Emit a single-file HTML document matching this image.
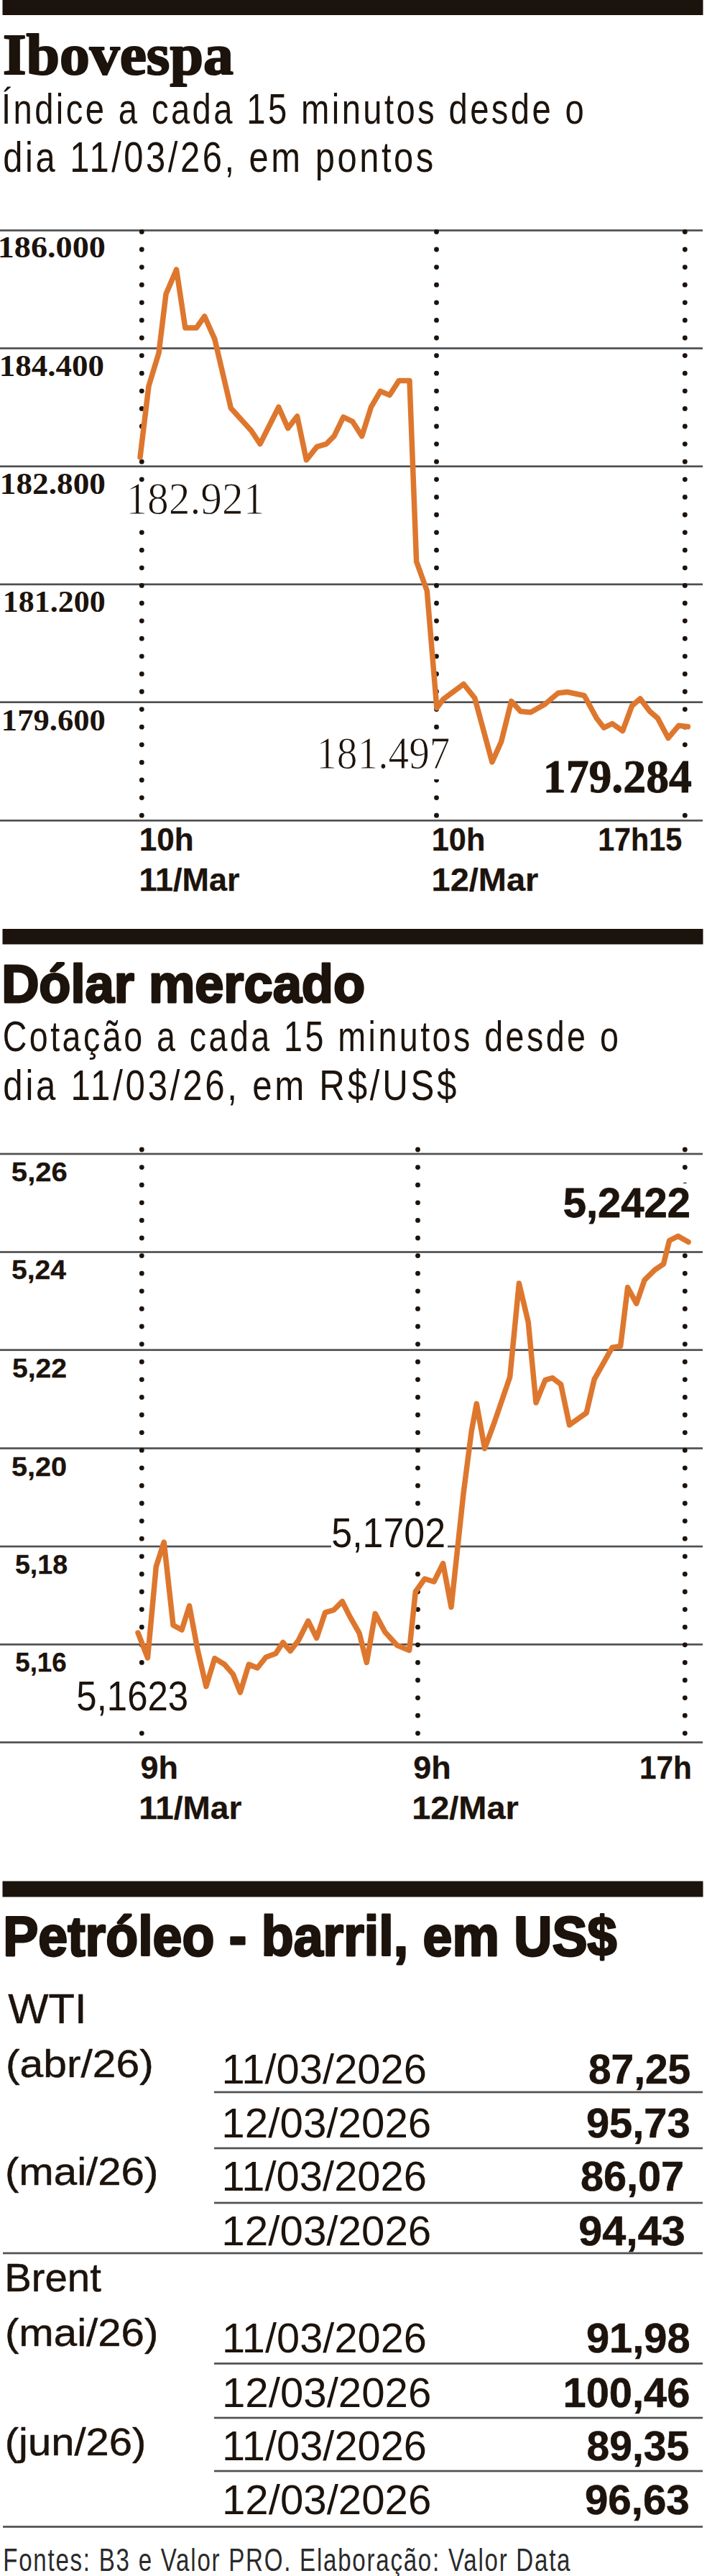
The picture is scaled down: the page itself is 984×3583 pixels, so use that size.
<!DOCTYPE html>
<html><head><meta charset="utf-8"><style>
html,body{margin:0;padding:0;background:#fff;}
svg{display:block;}
</style></head><body>
<svg width="984" height="3583" viewBox="0 0 984 3583">
<rect width="984" height="3583" fill="#fff"/>
<rect x="3.5" y="0" width="975" height="21" fill="#1c130c"/>
<text x="3.91" y="103" font-family="'Liberation Serif', serif" font-size="80" font-weight="bold" fill="#1c130c" textLength="320.85" lengthAdjust="spacingAndGlyphs" stroke="#1c130c" stroke-width="2.2" stroke-linejoin="round">Ibovespa</text>
<text x="2.07" y="172" font-family="'Liberation Sans', sans-serif" font-size="60" font-weight="normal" fill="#1c130c" textLength="814.1" lengthAdjust="spacingAndGlyphs" letter-spacing="4.29">Índice a cada 15 minutos desde o</text>
<text x="4.37" y="238.7" font-family="'Liberation Sans', sans-serif" font-size="60" font-weight="normal" fill="#1c130c" textLength="602.47" lengthAdjust="spacingAndGlyphs" letter-spacing="4.313">dia 11/03/26, em pontos</text>
<rect x="0" y="319.15" width="978" height="2.7" fill="#505050"/>
<rect x="0" y="483.15" width="978" height="2.7" fill="#505050"/>
<rect x="0" y="647.35" width="978" height="2.7" fill="#505050"/>
<rect x="0" y="811.4499999999999" width="978" height="2.7" fill="#505050"/>
<rect x="0" y="975.35" width="978" height="2.7" fill="#505050"/>
<rect x="0" y="1139.95" width="978" height="2.7" fill="#505050"/>
<circle cx="197.3" cy="322.4" r="3.4" fill="#1c130c"/>
<circle cx="197.3" cy="347.0" r="3.4" fill="#1c130c"/>
<circle cx="197.3" cy="371.6" r="3.4" fill="#1c130c"/>
<circle cx="197.3" cy="396.2" r="3.4" fill="#1c130c"/>
<circle cx="197.3" cy="420.8" r="3.4" fill="#1c130c"/>
<circle cx="197.3" cy="445.4" r="3.4" fill="#1c130c"/>
<circle cx="197.3" cy="470.0" r="3.4" fill="#1c130c"/>
<circle cx="197.3" cy="494.6" r="3.4" fill="#1c130c"/>
<circle cx="197.3" cy="519.2" r="3.4" fill="#1c130c"/>
<circle cx="197.3" cy="543.8" r="3.4" fill="#1c130c"/>
<circle cx="197.3" cy="568.4" r="3.4" fill="#1c130c"/>
<circle cx="197.3" cy="593.0" r="3.4" fill="#1c130c"/>
<circle cx="197.3" cy="617.6" r="3.4" fill="#1c130c"/>
<circle cx="197.3" cy="642.2" r="3.4" fill="#1c130c"/>
<circle cx="197.3" cy="666.8" r="3.4" fill="#1c130c"/>
<circle cx="197.3" cy="691.4" r="3.4" fill="#1c130c"/>
<circle cx="197.3" cy="716.0" r="3.4" fill="#1c130c"/>
<circle cx="197.3" cy="740.6" r="3.4" fill="#1c130c"/>
<circle cx="197.3" cy="765.2" r="3.4" fill="#1c130c"/>
<circle cx="197.3" cy="789.8" r="3.4" fill="#1c130c"/>
<circle cx="197.3" cy="814.4" r="3.4" fill="#1c130c"/>
<circle cx="197.3" cy="839.0" r="3.4" fill="#1c130c"/>
<circle cx="197.3" cy="863.6" r="3.4" fill="#1c130c"/>
<circle cx="197.3" cy="888.2" r="3.4" fill="#1c130c"/>
<circle cx="197.3" cy="912.8" r="3.4" fill="#1c130c"/>
<circle cx="197.3" cy="937.4" r="3.4" fill="#1c130c"/>
<circle cx="197.3" cy="962.0" r="3.4" fill="#1c130c"/>
<circle cx="197.3" cy="986.6" r="3.4" fill="#1c130c"/>
<circle cx="197.3" cy="1011.2" r="3.4" fill="#1c130c"/>
<circle cx="197.3" cy="1035.8" r="3.4" fill="#1c130c"/>
<circle cx="197.3" cy="1060.4" r="3.4" fill="#1c130c"/>
<circle cx="197.3" cy="1085.0" r="3.4" fill="#1c130c"/>
<circle cx="197.3" cy="1109.6" r="3.4" fill="#1c130c"/>
<circle cx="197.3" cy="1134.2" r="3.4" fill="#1c130c"/>
<circle cx="607.5" cy="322.4" r="3.4" fill="#1c130c"/>
<circle cx="607.5" cy="347.0" r="3.4" fill="#1c130c"/>
<circle cx="607.5" cy="371.6" r="3.4" fill="#1c130c"/>
<circle cx="607.5" cy="396.2" r="3.4" fill="#1c130c"/>
<circle cx="607.5" cy="420.8" r="3.4" fill="#1c130c"/>
<circle cx="607.5" cy="445.4" r="3.4" fill="#1c130c"/>
<circle cx="607.5" cy="470.0" r="3.4" fill="#1c130c"/>
<circle cx="607.5" cy="494.6" r="3.4" fill="#1c130c"/>
<circle cx="607.5" cy="519.2" r="3.4" fill="#1c130c"/>
<circle cx="607.5" cy="543.8" r="3.4" fill="#1c130c"/>
<circle cx="607.5" cy="568.4" r="3.4" fill="#1c130c"/>
<circle cx="607.5" cy="593.0" r="3.4" fill="#1c130c"/>
<circle cx="607.5" cy="617.6" r="3.4" fill="#1c130c"/>
<circle cx="607.5" cy="642.2" r="3.4" fill="#1c130c"/>
<circle cx="607.5" cy="666.8" r="3.4" fill="#1c130c"/>
<circle cx="607.5" cy="691.4" r="3.4" fill="#1c130c"/>
<circle cx="607.5" cy="716.0" r="3.4" fill="#1c130c"/>
<circle cx="607.5" cy="740.6" r="3.4" fill="#1c130c"/>
<circle cx="607.5" cy="765.2" r="3.4" fill="#1c130c"/>
<circle cx="607.5" cy="789.8" r="3.4" fill="#1c130c"/>
<circle cx="607.5" cy="814.4" r="3.4" fill="#1c130c"/>
<circle cx="607.5" cy="839.0" r="3.4" fill="#1c130c"/>
<circle cx="607.5" cy="863.6" r="3.4" fill="#1c130c"/>
<circle cx="607.5" cy="888.2" r="3.4" fill="#1c130c"/>
<circle cx="607.5" cy="912.8" r="3.4" fill="#1c130c"/>
<circle cx="607.5" cy="937.4" r="3.4" fill="#1c130c"/>
<circle cx="607.5" cy="962.0" r="3.4" fill="#1c130c"/>
<circle cx="607.5" cy="986.6" r="3.4" fill="#1c130c"/>
<circle cx="607.5" cy="1011.2" r="3.4" fill="#1c130c"/>
<circle cx="607.5" cy="1035.8" r="3.4" fill="#1c130c"/>
<circle cx="607.5" cy="1060.4" r="3.4" fill="#1c130c"/>
<circle cx="607.5" cy="1085.0" r="3.4" fill="#1c130c"/>
<circle cx="607.5" cy="1109.6" r="3.4" fill="#1c130c"/>
<circle cx="607.5" cy="1134.2" r="3.4" fill="#1c130c"/>
<circle cx="953.3" cy="322.4" r="3.4" fill="#1c130c"/>
<circle cx="953.3" cy="347.0" r="3.4" fill="#1c130c"/>
<circle cx="953.3" cy="371.6" r="3.4" fill="#1c130c"/>
<circle cx="953.3" cy="396.2" r="3.4" fill="#1c130c"/>
<circle cx="953.3" cy="420.8" r="3.4" fill="#1c130c"/>
<circle cx="953.3" cy="445.4" r="3.4" fill="#1c130c"/>
<circle cx="953.3" cy="470.0" r="3.4" fill="#1c130c"/>
<circle cx="953.3" cy="494.6" r="3.4" fill="#1c130c"/>
<circle cx="953.3" cy="519.2" r="3.4" fill="#1c130c"/>
<circle cx="953.3" cy="543.8" r="3.4" fill="#1c130c"/>
<circle cx="953.3" cy="568.4" r="3.4" fill="#1c130c"/>
<circle cx="953.3" cy="593.0" r="3.4" fill="#1c130c"/>
<circle cx="953.3" cy="617.6" r="3.4" fill="#1c130c"/>
<circle cx="953.3" cy="642.2" r="3.4" fill="#1c130c"/>
<circle cx="953.3" cy="666.8" r="3.4" fill="#1c130c"/>
<circle cx="953.3" cy="691.4" r="3.4" fill="#1c130c"/>
<circle cx="953.3" cy="716.0" r="3.4" fill="#1c130c"/>
<circle cx="953.3" cy="740.6" r="3.4" fill="#1c130c"/>
<circle cx="953.3" cy="765.2" r="3.4" fill="#1c130c"/>
<circle cx="953.3" cy="789.8" r="3.4" fill="#1c130c"/>
<circle cx="953.3" cy="814.4" r="3.4" fill="#1c130c"/>
<circle cx="953.3" cy="839.0" r="3.4" fill="#1c130c"/>
<circle cx="953.3" cy="863.6" r="3.4" fill="#1c130c"/>
<circle cx="953.3" cy="888.2" r="3.4" fill="#1c130c"/>
<circle cx="953.3" cy="912.8" r="3.4" fill="#1c130c"/>
<circle cx="953.3" cy="937.4" r="3.4" fill="#1c130c"/>
<circle cx="953.3" cy="962.0" r="3.4" fill="#1c130c"/>
<circle cx="953.3" cy="986.6" r="3.4" fill="#1c130c"/>
<circle cx="953.3" cy="1011.2" r="3.4" fill="#1c130c"/>
<circle cx="953.3" cy="1035.8" r="3.4" fill="#1c130c"/>
<circle cx="953.3" cy="1060.4" r="3.4" fill="#1c130c"/>
<circle cx="953.3" cy="1085.0" r="3.4" fill="#1c130c"/>
<circle cx="953.3" cy="1109.6" r="3.4" fill="#1c130c"/>
<circle cx="953.3" cy="1134.2" r="3.4" fill="#1c130c"/>
<text x="-3.27" y="357.6" font-family="'Liberation Serif', serif" font-size="42.4" font-weight="bold" fill="#1c130c" textLength="150.21" lengthAdjust="spacingAndGlyphs">186.000</text>
<text x="-1.18" y="523" font-family="'Liberation Serif', serif" font-size="42.4" font-weight="bold" fill="#1c130c" textLength="146.28" lengthAdjust="spacingAndGlyphs">184.400</text>
<text x="-0.2" y="686.6" font-family="'Liberation Serif', serif" font-size="42.4" font-weight="bold" fill="#1c130c" textLength="147.1" lengthAdjust="spacingAndGlyphs">182.800</text>
<text x="3.89" y="851" font-family="'Liberation Serif', serif" font-size="42.4" font-weight="bold" fill="#1c130c" textLength="142.96" lengthAdjust="spacingAndGlyphs">181.200</text>
<text x="1.84" y="1016" font-family="'Liberation Serif', serif" font-size="42.4" font-weight="bold" fill="#1c130c" textLength="145.03" lengthAdjust="spacingAndGlyphs">179.600</text>
<rect x="176" y="671" width="195" height="57" fill="#fff"/>
<rect x="440" y="1018" width="192" height="66" fill="#fff"/>
<rect x="755" y="1045" width="212" height="80" fill="#fff"/>
<polyline points="195,636 207,537 221,491 231,409 245.6,375 257.8,456 273.4,456 284.7,440 298.8,471.6 321.4,567.8 349.7,599 362,617.5 387.8,566.2 400.7,595.6 413.6,579 426.4,639.8 441.1,621.4 454,617.7 465,606.7 477.9,580.2 490.8,586.4 503.7,606.7 516.5,566.2 529.4,544.1 542.3,549.6 555.2,529.4 570,529.4 579.6,781 594.3,821.8 607.9,984.7 617,972.4 645.3,951.5 660.8,971 684.9,1060 697.6,1031.8 711.7,975.3 724.5,989.4 738.6,990.8 758.4,979.5 776.8,964 789.5,962.5 813.2,967.5 830.5,999.2 840.6,1012.2 852.1,1006.5 866.6,1016.6 879.5,981.9 891,971.8 904,989.1 915.6,999.2 930,1026.6 944.5,1009.3 957.4,1010.8" fill="none" stroke="#de772e" stroke-width="7.5" stroke-linejoin="round" stroke-linecap="round"/>
<text x="175.4" y="714.7" font-family="'Liberation Serif', serif" font-size="63.6" font-weight="normal" fill="#1c130c" textLength="193.05" lengthAdjust="spacingAndGlyphs" stroke="#fff" stroke-width="1.0">182.921</text>
<text x="440.19" y="1069.4" font-family="'Liberation Serif', serif" font-size="63.6" font-weight="normal" fill="#1c130c" textLength="186.33" lengthAdjust="spacingAndGlyphs" stroke="#fff" stroke-width="1.0">181.497</text>
<text x="755.8" y="1102" font-family="'Liberation Serif', serif" font-size="65" font-weight="bold" fill="#1c130c" textLength="207.05" lengthAdjust="spacingAndGlyphs" stroke="#1c130c" stroke-width="1.0" stroke-linejoin="round">179.284</text>
<text x="193.66" y="1183" font-family="'Liberation Sans', sans-serif" font-size="43.5" font-weight="bold" fill="#1c130c" textLength="75.93" lengthAdjust="spacingAndGlyphs" stroke="#1c130c" stroke-width="0.3" stroke-linejoin="round">10h</text>
<text x="193.6" y="1239" font-family="'Liberation Sans', sans-serif" font-size="43.5" font-weight="bold" fill="#1c130c" textLength="139.85" lengthAdjust="spacingAndGlyphs" stroke="#1c130c" stroke-width="0.3" stroke-linejoin="round">11/Mar</text>
<text x="600.82" y="1183" font-family="'Liberation Sans', sans-serif" font-size="43.5" font-weight="bold" fill="#1c130c" textLength="74.54" lengthAdjust="spacingAndGlyphs" stroke="#1c130c" stroke-width="0.3" stroke-linejoin="round">10h</text>
<text x="600.56" y="1239" font-family="'Liberation Sans', sans-serif" font-size="43.5" font-weight="bold" fill="#1c130c" textLength="148.75" lengthAdjust="spacingAndGlyphs" stroke="#1c130c" stroke-width="0.3" stroke-linejoin="round">12/Mar</text>
<text x="832.15" y="1183" font-family="'Liberation Sans', sans-serif" font-size="43.5" font-weight="bold" fill="#1c130c" textLength="117.18" lengthAdjust="spacingAndGlyphs" stroke="#1c130c" stroke-width="0.3" stroke-linejoin="round">17h15</text>
<rect x="3.5" y="1292" width="975" height="21.5" fill="#1c130c"/>
<text x="2.15" y="1394.2" font-family="'Liberation Sans', sans-serif" font-size="75" font-weight="bold" fill="#1c130c" textLength="506.0" lengthAdjust="spacingAndGlyphs" stroke="#1c130c" stroke-width="2.8" stroke-linejoin="round">Dólar mercado</text>
<text x="3.67" y="1462" font-family="'Liberation Sans', sans-serif" font-size="60" font-weight="normal" fill="#1c130c" textLength="860.61" lengthAdjust="spacingAndGlyphs" letter-spacing="4.459">Cotação a cada 15 minutos desde o</text>
<text x="4.36" y="1529.5" font-family="'Liberation Sans', sans-serif" font-size="60" font-weight="normal" fill="#1c130c" textLength="634.73" lengthAdjust="spacingAndGlyphs" letter-spacing="4.524">dia 11/03/26, em R$/US$</text>
<rect x="0" y="1603.65" width="978" height="2.7" fill="#505050"/>
<rect x="0" y="1740.15" width="978" height="2.7" fill="#505050"/>
<rect x="0" y="1876.3500000000001" width="978" height="2.7" fill="#505050"/>
<rect x="0" y="2013.15" width="978" height="2.7" fill="#505050"/>
<rect x="0" y="2149.65" width="978" height="2.7" fill="#505050"/>
<rect x="0" y="2285.9500000000003" width="978" height="2.7" fill="#505050"/>
<rect x="0" y="2422.15" width="978" height="2.7" fill="#505050"/>
<circle cx="197.3" cy="1599.0" r="3.4" fill="#1c130c"/>
<circle cx="197.3" cy="1623.6" r="3.4" fill="#1c130c"/>
<circle cx="197.3" cy="1648.2" r="3.4" fill="#1c130c"/>
<circle cx="197.3" cy="1672.8" r="3.4" fill="#1c130c"/>
<circle cx="197.3" cy="1697.4" r="3.4" fill="#1c130c"/>
<circle cx="197.3" cy="1722.0" r="3.4" fill="#1c130c"/>
<circle cx="197.3" cy="1746.6" r="3.4" fill="#1c130c"/>
<circle cx="197.3" cy="1771.2" r="3.4" fill="#1c130c"/>
<circle cx="197.3" cy="1795.8" r="3.4" fill="#1c130c"/>
<circle cx="197.3" cy="1820.4" r="3.4" fill="#1c130c"/>
<circle cx="197.3" cy="1845.0" r="3.4" fill="#1c130c"/>
<circle cx="197.3" cy="1869.6" r="3.4" fill="#1c130c"/>
<circle cx="197.3" cy="1894.2" r="3.4" fill="#1c130c"/>
<circle cx="197.3" cy="1918.8" r="3.4" fill="#1c130c"/>
<circle cx="197.3" cy="1943.4" r="3.4" fill="#1c130c"/>
<circle cx="197.3" cy="1968.0" r="3.4" fill="#1c130c"/>
<circle cx="197.3" cy="1992.6" r="3.4" fill="#1c130c"/>
<circle cx="197.3" cy="2017.2" r="3.4" fill="#1c130c"/>
<circle cx="197.3" cy="2041.8" r="3.4" fill="#1c130c"/>
<circle cx="197.3" cy="2066.4" r="3.4" fill="#1c130c"/>
<circle cx="197.3" cy="2091.0" r="3.4" fill="#1c130c"/>
<circle cx="197.3" cy="2115.6" r="3.4" fill="#1c130c"/>
<circle cx="197.3" cy="2140.2" r="3.4" fill="#1c130c"/>
<circle cx="197.3" cy="2164.8" r="3.4" fill="#1c130c"/>
<circle cx="197.3" cy="2189.4" r="3.4" fill="#1c130c"/>
<circle cx="197.3" cy="2214.0" r="3.4" fill="#1c130c"/>
<circle cx="197.3" cy="2238.6" r="3.4" fill="#1c130c"/>
<circle cx="197.3" cy="2263.2" r="3.4" fill="#1c130c"/>
<circle cx="197.3" cy="2287.8" r="3.4" fill="#1c130c"/>
<circle cx="197.3" cy="2312.4" r="3.4" fill="#1c130c"/>
<circle cx="197.3" cy="2337.0" r="3.4" fill="#1c130c"/>
<circle cx="197.3" cy="2361.6" r="3.4" fill="#1c130c"/>
<circle cx="197.3" cy="2386.2" r="3.4" fill="#1c130c"/>
<circle cx="197.3" cy="2410.8" r="3.4" fill="#1c130c"/>
<circle cx="581.5" cy="1599.0" r="3.4" fill="#1c130c"/>
<circle cx="581.5" cy="1623.6" r="3.4" fill="#1c130c"/>
<circle cx="581.5" cy="1648.2" r="3.4" fill="#1c130c"/>
<circle cx="581.5" cy="1672.8" r="3.4" fill="#1c130c"/>
<circle cx="581.5" cy="1697.4" r="3.4" fill="#1c130c"/>
<circle cx="581.5" cy="1722.0" r="3.4" fill="#1c130c"/>
<circle cx="581.5" cy="1746.6" r="3.4" fill="#1c130c"/>
<circle cx="581.5" cy="1771.2" r="3.4" fill="#1c130c"/>
<circle cx="581.5" cy="1795.8" r="3.4" fill="#1c130c"/>
<circle cx="581.5" cy="1820.4" r="3.4" fill="#1c130c"/>
<circle cx="581.5" cy="1845.0" r="3.4" fill="#1c130c"/>
<circle cx="581.5" cy="1869.6" r="3.4" fill="#1c130c"/>
<circle cx="581.5" cy="1894.2" r="3.4" fill="#1c130c"/>
<circle cx="581.5" cy="1918.8" r="3.4" fill="#1c130c"/>
<circle cx="581.5" cy="1943.4" r="3.4" fill="#1c130c"/>
<circle cx="581.5" cy="1968.0" r="3.4" fill="#1c130c"/>
<circle cx="581.5" cy="1992.6" r="3.4" fill="#1c130c"/>
<circle cx="581.5" cy="2017.2" r="3.4" fill="#1c130c"/>
<circle cx="581.5" cy="2041.8" r="3.4" fill="#1c130c"/>
<circle cx="581.5" cy="2066.4" r="3.4" fill="#1c130c"/>
<circle cx="581.5" cy="2091.0" r="3.4" fill="#1c130c"/>
<circle cx="581.5" cy="2115.6" r="3.4" fill="#1c130c"/>
<circle cx="581.5" cy="2140.2" r="3.4" fill="#1c130c"/>
<circle cx="581.5" cy="2164.8" r="3.4" fill="#1c130c"/>
<circle cx="581.5" cy="2189.4" r="3.4" fill="#1c130c"/>
<circle cx="581.5" cy="2214.0" r="3.4" fill="#1c130c"/>
<circle cx="581.5" cy="2238.6" r="3.4" fill="#1c130c"/>
<circle cx="581.5" cy="2263.2" r="3.4" fill="#1c130c"/>
<circle cx="581.5" cy="2287.8" r="3.4" fill="#1c130c"/>
<circle cx="581.5" cy="2312.4" r="3.4" fill="#1c130c"/>
<circle cx="581.5" cy="2337.0" r="3.4" fill="#1c130c"/>
<circle cx="581.5" cy="2361.6" r="3.4" fill="#1c130c"/>
<circle cx="581.5" cy="2386.2" r="3.4" fill="#1c130c"/>
<circle cx="581.5" cy="2410.8" r="3.4" fill="#1c130c"/>
<circle cx="953.3" cy="1599.0" r="3.4" fill="#1c130c"/>
<circle cx="953.3" cy="1623.6" r="3.4" fill="#1c130c"/>
<circle cx="953.3" cy="1648.2" r="3.4" fill="#1c130c"/>
<circle cx="953.3" cy="1672.8" r="3.4" fill="#1c130c"/>
<circle cx="953.3" cy="1697.4" r="3.4" fill="#1c130c"/>
<circle cx="953.3" cy="1722.0" r="3.4" fill="#1c130c"/>
<circle cx="953.3" cy="1746.6" r="3.4" fill="#1c130c"/>
<circle cx="953.3" cy="1771.2" r="3.4" fill="#1c130c"/>
<circle cx="953.3" cy="1795.8" r="3.4" fill="#1c130c"/>
<circle cx="953.3" cy="1820.4" r="3.4" fill="#1c130c"/>
<circle cx="953.3" cy="1845.0" r="3.4" fill="#1c130c"/>
<circle cx="953.3" cy="1869.6" r="3.4" fill="#1c130c"/>
<circle cx="953.3" cy="1894.2" r="3.4" fill="#1c130c"/>
<circle cx="953.3" cy="1918.8" r="3.4" fill="#1c130c"/>
<circle cx="953.3" cy="1943.4" r="3.4" fill="#1c130c"/>
<circle cx="953.3" cy="1968.0" r="3.4" fill="#1c130c"/>
<circle cx="953.3" cy="1992.6" r="3.4" fill="#1c130c"/>
<circle cx="953.3" cy="2017.2" r="3.4" fill="#1c130c"/>
<circle cx="953.3" cy="2041.8" r="3.4" fill="#1c130c"/>
<circle cx="953.3" cy="2066.4" r="3.4" fill="#1c130c"/>
<circle cx="953.3" cy="2091.0" r="3.4" fill="#1c130c"/>
<circle cx="953.3" cy="2115.6" r="3.4" fill="#1c130c"/>
<circle cx="953.3" cy="2140.2" r="3.4" fill="#1c130c"/>
<circle cx="953.3" cy="2164.8" r="3.4" fill="#1c130c"/>
<circle cx="953.3" cy="2189.4" r="3.4" fill="#1c130c"/>
<circle cx="953.3" cy="2214.0" r="3.4" fill="#1c130c"/>
<circle cx="953.3" cy="2238.6" r="3.4" fill="#1c130c"/>
<circle cx="953.3" cy="2263.2" r="3.4" fill="#1c130c"/>
<circle cx="953.3" cy="2287.8" r="3.4" fill="#1c130c"/>
<circle cx="953.3" cy="2312.4" r="3.4" fill="#1c130c"/>
<circle cx="953.3" cy="2337.0" r="3.4" fill="#1c130c"/>
<circle cx="953.3" cy="2361.6" r="3.4" fill="#1c130c"/>
<circle cx="953.3" cy="2386.2" r="3.4" fill="#1c130c"/>
<circle cx="953.3" cy="2410.8" r="3.4" fill="#1c130c"/>
<text x="15.89" y="1643" font-family="'Liberation Sans', sans-serif" font-size="36" font-weight="bold" fill="#1c130c" textLength="77.91" lengthAdjust="spacingAndGlyphs" stroke="#1c130c" stroke-width="0.3" stroke-linejoin="round">5,26</text>
<text x="15.91" y="1779" font-family="'Liberation Sans', sans-serif" font-size="36" font-weight="bold" fill="#1c130c" textLength="76.17" lengthAdjust="spacingAndGlyphs" stroke="#1c130c" stroke-width="0.3" stroke-linejoin="round">5,24</text>
<text x="16.91" y="1915.5" font-family="'Liberation Sans', sans-serif" font-size="36" font-weight="bold" fill="#1c130c" textLength="76.26" lengthAdjust="spacingAndGlyphs" stroke="#1c130c" stroke-width="0.3" stroke-linejoin="round">5,22</text>
<text x="15.9" y="2052.5" font-family="'Liberation Sans', sans-serif" font-size="36" font-weight="bold" fill="#1c130c" textLength="77.29" lengthAdjust="spacingAndGlyphs" stroke="#1c130c" stroke-width="0.3" stroke-linejoin="round">5,20</text>
<text x="20.96" y="2189" font-family="'Liberation Sans', sans-serif" font-size="36" font-weight="bold" fill="#1c130c" textLength="73.17" lengthAdjust="spacingAndGlyphs" stroke="#1c130c" stroke-width="0.3" stroke-linejoin="round">5,18</text>
<text x="21.28" y="2325.3" font-family="'Liberation Sans', sans-serif" font-size="36" font-weight="bold" fill="#1c130c" textLength="71.42" lengthAdjust="spacingAndGlyphs" stroke="#1c130c" stroke-width="0.3" stroke-linejoin="round">5,16</text>
<rect x="461" y="2100" width="162" height="78" fill="#fff"/>
<rect x="104" y="2318" width="162" height="86" fill="#fff"/>
<rect x="778" y="1646" width="185" height="89" fill="#fff"/>
<polyline points="192,2271 205.5,2306 217.3,2179 228.2,2145 241,2260.5 253,2267 263.6,2233.6 275,2294.7 286.9,2345.6 298.8,2306.6 312.4,2315 324.3,2328.6 334.4,2354 346.3,2315 358.2,2320 370.1,2305 383.7,2300 393.8,2284.5 404,2296.4 415.3,2281.8 428.9,2254.7 440.7,2278.4 452.6,2242.8 464.5,2239.4 476.4,2227.5 486.6,2247.9 500.1,2271.7 510.3,2312.4 522.2,2244.5 535.8,2270 552.7,2288.6 569.7,2295.4 578.3,2214 591.1,2196 604,2200 616.6,2174.6 628,2235.4 644.9,2078.4 656.2,1990.7 663.3,1952.5 674.6,2014.8 688.7,1976.6 709.7,1915.2 722.4,1785 735.2,1838.8 746,1951 758.8,1919.6 768.7,1916.6 780.6,1925.5 792.5,1982 816.2,1965.1 827.1,1918.6 849.7,1878.4 852.2,1874.2 863.6,1872.5 873.6,1790.7 885.8,1813.1 897,1780.5 911.3,1766.3 923.5,1758.1 931.6,1725.5 943.9,1719.4 958.1,1727.6" fill="none" stroke="#de772e" stroke-width="7.5" stroke-linejoin="round" stroke-linecap="round"/>
<text x="461.31" y="2151.5" font-family="'Liberation Sans', sans-serif" font-size="58" font-weight="normal" fill="#1c130c" textLength="158.84" lengthAdjust="spacingAndGlyphs">5,1702</text>
<text x="106.37" y="2378.8" font-family="'Liberation Sans', sans-serif" font-size="58" font-weight="normal" fill="#1c130c" textLength="155.75" lengthAdjust="spacingAndGlyphs">5,1623</text>
<text x="783.7" y="1693.4" font-family="'Liberation Sans', sans-serif" font-size="58" font-weight="bold" fill="#1c130c" textLength="177.3" lengthAdjust="spacingAndGlyphs" stroke="#1c130c" stroke-width="0.8" stroke-linejoin="round">5,2422</text>
<text x="195.47" y="2474.3" font-family="'Liberation Sans', sans-serif" font-size="43.5" font-weight="bold" fill="#1c130c" textLength="52.39" lengthAdjust="spacingAndGlyphs" stroke="#1c130c" stroke-width="0.3" stroke-linejoin="round">9h</text>
<text x="193.33" y="2530.3" font-family="'Liberation Sans', sans-serif" font-size="43.5" font-weight="bold" fill="#1c130c" textLength="142.93" lengthAdjust="spacingAndGlyphs" stroke="#1c130c" stroke-width="0.3" stroke-linejoin="round">11/Mar</text>
<text x="575.37" y="2474.3" font-family="'Liberation Sans', sans-serif" font-size="43.5" font-weight="bold" fill="#1c130c" textLength="52.49" lengthAdjust="spacingAndGlyphs" stroke="#1c130c" stroke-width="0.3" stroke-linejoin="round">9h</text>
<text x="573.16" y="2530.3" font-family="'Liberation Sans', sans-serif" font-size="43.5" font-weight="bold" fill="#1c130c" textLength="148.65" lengthAdjust="spacingAndGlyphs" stroke="#1c130c" stroke-width="0.3" stroke-linejoin="round">12/Mar</text>
<text x="890.09" y="2474.3" font-family="'Liberation Sans', sans-serif" font-size="43.5" font-weight="bold" fill="#1c130c" textLength="72.83" lengthAdjust="spacingAndGlyphs" stroke="#1c130c" stroke-width="0.3" stroke-linejoin="round">17h</text>
<rect x="3.5" y="2616.5" width="975" height="22" fill="#1c130c"/>
<text x="4.18" y="2719.8" font-family="'Liberation Sans', sans-serif" font-size="77" font-weight="bold" fill="#1c130c" textLength="854.19" lengthAdjust="spacingAndGlyphs" stroke="#1c130c" stroke-width="2.8" stroke-linejoin="round">Petróleo - barril, em US$</text>
<text x="11.3" y="2814" font-family="'Liberation Sans', sans-serif" font-size="56.7" font-weight="normal" fill="#1c130c" textLength="109.24" lengthAdjust="spacingAndGlyphs" stroke="#1c130c" stroke-width="0.5" stroke-linejoin="round">WTI</text>
<text x="8.04" y="2888.5" font-family="'Liberation Sans', sans-serif" font-size="54" font-weight="normal" fill="#1c130c" textLength="205.73" lengthAdjust="spacingAndGlyphs" stroke="#1c130c" stroke-width="0.5" stroke-linejoin="round">(abr/26)</text>
<text x="6.97" y="3038.5" font-family="'Liberation Sans', sans-serif" font-size="54" font-weight="normal" fill="#1c130c" textLength="213.31" lengthAdjust="spacingAndGlyphs" stroke="#1c130c" stroke-width="0.5" stroke-linejoin="round">(mai/26)</text>
<text x="6.18" y="3187" font-family="'Liberation Sans', sans-serif" font-size="56" font-weight="normal" fill="#1c130c" textLength="134.68" lengthAdjust="spacingAndGlyphs" stroke="#1c130c" stroke-width="0.5" stroke-linejoin="round">Brent</text>
<text x="6.97" y="3263" font-family="'Liberation Sans', sans-serif" font-size="54" font-weight="normal" fill="#1c130c" textLength="213.31" lengthAdjust="spacingAndGlyphs" stroke="#1c130c" stroke-width="0.5" stroke-linejoin="round">(mai/26)</text>
<text x="6.78" y="3414.5" font-family="'Liberation Sans', sans-serif" font-size="54" font-weight="normal" fill="#1c130c" textLength="196.54" lengthAdjust="spacingAndGlyphs" stroke="#1c130c" stroke-width="0.5" stroke-linejoin="round">(jun/26)</text>
<text x="308.41" y="2897.5" font-family="'Liberation Sans', sans-serif" font-size="58" font-weight="normal" fill="#1c130c" textLength="285.57" lengthAdjust="spacingAndGlyphs">11/03/2026</text>
<text x="308.38" y="2972.6" font-family="'Liberation Sans', sans-serif" font-size="58" font-weight="normal" fill="#1c130c" textLength="291.93" lengthAdjust="spacingAndGlyphs">12/03/2026</text>
<text x="308.41" y="3047" font-family="'Liberation Sans', sans-serif" font-size="58" font-weight="normal" fill="#1c130c" textLength="285.57" lengthAdjust="spacingAndGlyphs">11/03/2026</text>
<text x="308.38" y="3122.5" font-family="'Liberation Sans', sans-serif" font-size="58" font-weight="normal" fill="#1c130c" textLength="291.93" lengthAdjust="spacingAndGlyphs">12/03/2026</text>
<text x="309.01" y="3272" font-family="'Liberation Sans', sans-serif" font-size="58" font-weight="normal" fill="#1c130c" textLength="284.96" lengthAdjust="spacingAndGlyphs">11/03/2026</text>
<text x="308.99" y="3347.5" font-family="'Liberation Sans', sans-serif" font-size="58" font-weight="normal" fill="#1c130c" textLength="291.32" lengthAdjust="spacingAndGlyphs">12/03/2026</text>
<text x="309.01" y="3422" font-family="'Liberation Sans', sans-serif" font-size="58" font-weight="normal" fill="#1c130c" textLength="284.96" lengthAdjust="spacingAndGlyphs">11/03/2026</text>
<text x="308.99" y="3497" font-family="'Liberation Sans', sans-serif" font-size="58" font-weight="normal" fill="#1c130c" textLength="291.32" lengthAdjust="spacingAndGlyphs">12/03/2026</text>
<text x="819.0" y="2897.5" font-family="'Liberation Sans', sans-serif" font-size="57" font-weight="bold" fill="#1c130c" textLength="142.23" lengthAdjust="spacingAndGlyphs" stroke="#1c130c" stroke-width="0.6" stroke-linejoin="round">87,25</text>
<text x="815.97" y="2972.6" font-family="'Liberation Sans', sans-serif" font-size="57" font-weight="bold" fill="#1c130c" textLength="144.69" lengthAdjust="spacingAndGlyphs" stroke="#1c130c" stroke-width="0.6" stroke-linejoin="round">95,73</text>
<text x="807.99" y="3047" font-family="'Liberation Sans', sans-serif" font-size="57" font-weight="bold" fill="#1c130c" textLength="144.17" lengthAdjust="spacingAndGlyphs" stroke="#1c130c" stroke-width="0.6" stroke-linejoin="round">86,07</text>
<text x="805.22" y="3122.5" font-family="'Liberation Sans', sans-serif" font-size="57" font-weight="bold" fill="#1c130c" textLength="148.49" lengthAdjust="spacingAndGlyphs" stroke="#1c130c" stroke-width="0.6" stroke-linejoin="round">94,43</text>
<text x="815.97" y="3272" font-family="'Liberation Sans', sans-serif" font-size="57" font-weight="bold" fill="#1c130c" textLength="144.69" lengthAdjust="spacingAndGlyphs" stroke="#1c130c" stroke-width="0.6" stroke-linejoin="round">91,98</text>
<text x="783.56" y="3347.5" font-family="'Liberation Sans', sans-serif" font-size="57" font-weight="bold" fill="#1c130c" textLength="176.81" lengthAdjust="spacingAndGlyphs" stroke="#1c130c" stroke-width="0.6" stroke-linejoin="round">100,46</text>
<text x="816.6" y="3422" font-family="'Liberation Sans', sans-serif" font-size="57" font-weight="bold" fill="#1c130c" textLength="142.44" lengthAdjust="spacingAndGlyphs" stroke="#1c130c" stroke-width="0.6" stroke-linejoin="round">89,35</text>
<text x="813.96" y="3497" font-family="'Liberation Sans', sans-serif" font-size="57" font-weight="bold" fill="#1c130c" textLength="145.72" lengthAdjust="spacingAndGlyphs" stroke="#1c130c" stroke-width="0.6" stroke-linejoin="round">96,63</text>
<rect x="298" y="2908.65" width="680" height="2.7" fill="#505050"/>
<rect x="298" y="2986.65" width="680" height="2.7" fill="#505050"/>
<rect x="298" y="3062.65" width="680" height="2.7" fill="#505050"/>
<rect x="298" y="3286.15" width="680" height="2.7" fill="#505050"/>
<rect x="298" y="3361.65" width="680" height="2.7" fill="#505050"/>
<rect x="298" y="3435.65" width="680" height="2.7" fill="#505050"/>
<rect x="4" y="3132.65" width="974" height="2.7" fill="#505050"/>
<rect x="4" y="3513.15" width="974" height="2.7" fill="#505050"/>
<text x="4.19" y="3575.5" font-family="'Liberation Sans', sans-serif" font-size="44" font-weight="normal" fill="#2a2a2a" textLength="791.09" lengthAdjust="spacingAndGlyphs" letter-spacing="2.323">Fontes: B3 e Valor PRO. Elaboração: Valor Data</text>
</svg>
</body></html>
